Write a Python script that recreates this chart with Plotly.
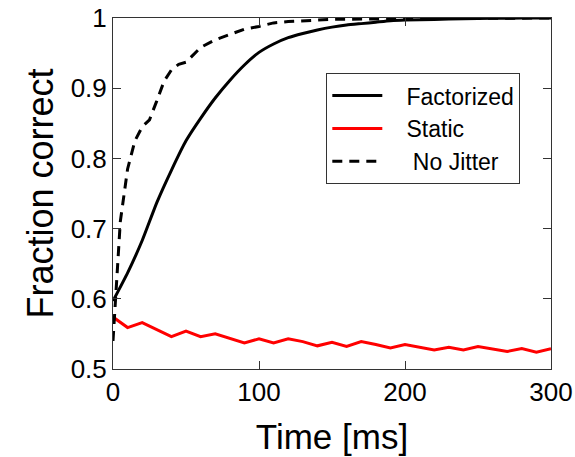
import plotly.graph_objects as go

# Time axis (ms)
t_fact = [0, 10, 20, 30, 40, 50, 60, 70, 80, 90, 100, 110, 120, 130, 140, 150,
          160, 170, 180, 190, 200, 220, 240, 260, 280, 300]
factorized = [0.597, 0.637, 0.683, 0.737, 0.783, 0.825, 0.857, 0.886, 0.911, 0.933,
              0.951, 0.963, 0.972, 0.978, 0.983, 0.987, 0.990, 0.992, 0.994, 0.996,
              0.997, 0.998, 0.999, 0.9995, 1.0, 1.0]

t_static = [0, 10, 20, 30, 40, 50, 60, 70, 80, 90, 100, 110, 120, 130, 140, 150,
            160, 170, 180, 190, 200, 210, 220, 230, 240, 250, 260, 270, 280, 290, 300]
static = [0.574, 0.559, 0.566, 0.556, 0.546, 0.554, 0.546, 0.550, 0.543, 0.537,
          0.543, 0.537, 0.543, 0.539, 0.533, 0.538, 0.532, 0.539, 0.535, 0.530,
          0.535, 0.531, 0.527, 0.531, 0.527, 0.532, 0.529, 0.525, 0.529, 0.524, 0.529]

t_nojit = [0, 5, 10, 15, 20, 25, 30, 35, 40, 45, 50, 60, 70, 80, 90, 100, 110,
           120, 130, 150, 200, 250, 300]
nojitter = [0.54, 0.71, 0.785, 0.825, 0.845, 0.855, 0.882, 0.910, 0.926, 0.934, 0.937,
            0.958, 0.969, 0.977, 0.984, 0.988, 0.993, 0.995, 0.996, 0.998, 0.999,
            1.0, 1.0]

x_ticks = [0, 100, 200, 300]
y_ticks = [0.5, 0.6, 0.7, 0.8, 0.9, 1.0]
y_ticktext = ["0.5", "0.6", "0.7", "0.8", "0.9", "1"]

FONT = "Liberation Sans, Arial, Helvetica, sans-serif"
PAD = "\u00a0\u00a0\u00a0"

fig = go.Figure()
fig.add_trace(go.Scatter(x=t_fact, y=factorized, mode="lines", name=PAD + "Factorized",
                         line=dict(color="black", width=3, shape="spline", smoothing=0.5)))
fig.add_trace(go.Scatter(x=t_static, y=static, mode="lines", name=PAD + "Static",
                         line=dict(color="#ff0000", width=3)))
fig.add_trace(go.Scatter(x=t_nojit, y=nojitter, mode="lines", name=PAD + "\u00a0No Jitter",
                         line=dict(color="black", width=3, dash="10px,7px")))

axis_common = dict(
    showline=True, linecolor="#333333", linewidth=1, mirror="allticks",
    ticks="inside", ticklen=8, tickcolor="#333333", tickwidth=1,
    showgrid=False, zeroline=False, automargin=False,
    tickfont=dict(family=FONT, size=26, color="black"),
)

fig.update_layout(
    width=575, height=457,
    margin=dict(l=113, r=24, t=18, b=88),
    paper_bgcolor="white", plot_bgcolor="white",
    font=dict(family=FONT, color="black"),
    showlegend=True,
    legend=dict(
        x=0.487, y=0.843, xanchor="left", yanchor="top",
        bgcolor="white", bordercolor="#333333", borderwidth=1,
        font=dict(family=FONT, size=23, color="black"),
        itemwidth=50, tracegroupgap=0,
    ),
)
fig.update_xaxes(range=[0, 300], tickvals=x_ticks, ticktext=[str(v) for v in x_ticks],
                 title=dict(text="Time [ms]", font=dict(family=FONT, size=35), standoff=18),
                 **axis_common)
fig.update_yaxes(range=[0.5, 1.0], tickvals=y_ticks, ticktext=y_ticktext,
                 title=dict(text="Fraction correct", font=dict(family=FONT, size=36), standoff=6),
                 **axis_common)

fig.write_html("out.html")
